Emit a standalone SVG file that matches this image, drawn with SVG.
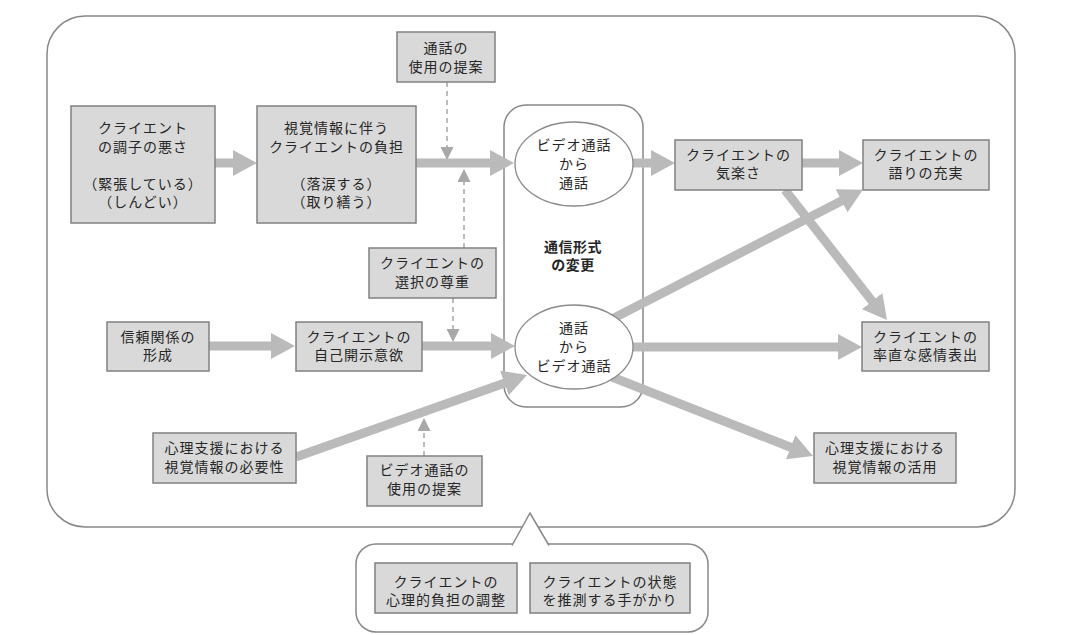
<svg xmlns="http://www.w3.org/2000/svg" width="1074" height="635" viewBox="0 0 1074 635">
<defs>
<style>
.box{fill:#d9d9d9;stroke:#808080;stroke-width:1.5}
.ell{fill:#ffffff;stroke:#8a8a8a;stroke-width:1.3}
.frame{fill:#ffffff;stroke:#888888;stroke-width:1.5}
.t{font-family:"Noto Sans CJK JP","Noto Sans CJK SC",sans-serif;font-size:14px;letter-spacing:1px;fill:#262626;text-anchor:middle}
.b{font-weight:bold;letter-spacing:0.5px}
.arr{stroke:#bababa;stroke-width:9;fill:none;marker-end:url(#ah)}
.dash{stroke:#999999;stroke-width:1.3;stroke-dasharray:5 4;fill:none;marker-end:url(#dh)}
</style>
<marker id="ah" markerUnits="userSpaceOnUse" viewBox="0 0 24 26" markerWidth="24" markerHeight="26" refX="2" refY="13" orient="auto">
<path d="M0,0 L24,13 L0,26 z" fill="#bababa"/>
</marker>
<marker id="dh" markerUnits="userSpaceOnUse" viewBox="0 0 13 13" markerWidth="13" markerHeight="13" refX="1" refY="6.5" orient="auto">
<path d="M0,0 L13,6.5 L0,13 z" fill="#a8a8a8"/>
</marker>
</defs>
<rect width="1074" height="635" fill="#ffffff"/>
<g id="frame">
<rect class="frame" x="47" y="16" width="968" height="511" rx="38"/>
</g>
<g id="bubble">
<rect class="frame" x="356" y="544" width="352" height="88" rx="20"/>
<path d="M512,545.5 L530,513 L549,545.5" fill="#ffffff" stroke="#888888" stroke-width="1.5" stroke-linejoin="miter"/>
</g>
<g id="group-format">
<rect class="frame" x="504" y="105" width="139" height="302" rx="22" stroke-width="1.2"/>
<text class="t b" x="573" y="252">通信形式</text>
<text class="t b" x="573" y="270">の変更</text>
</g>
<g id="connectors">
<line class="arr" x1="215" y1="163" x2="235" y2="163"/>
<line class="arr" x1="416" y1="163" x2="492" y2="163"/>
<line class="arr" x1="209" y1="346" x2="273" y2="346"/>
<line class="arr" x1="422" y1="346" x2="493" y2="346"/>
<line class="arr" x1="296" y1="457" x2="506.3" y2="382.4"/>
<line class="arr" x1="632" y1="163" x2="653" y2="163"/>
<line class="arr" x1="802" y1="163" x2="841" y2="163"/>
<line class="arr" x1="614" y1="318" x2="843.3" y2="199.9"/>
<line class="arr" x1="785" y1="190" x2="873.4" y2="302.7"/>
<line class="arr" x1="632" y1="347" x2="840" y2="347"/>
<line class="arr" x1="612" y1="377" x2="792.5" y2="448"/>
<line class="dash" x1="447" y1="82" x2="447" y2="148"/>
<line class="dash" x1="464" y1="248" x2="464" y2="181"/>
<line class="dash" x1="453" y1="298" x2="453" y2="330"/>
<line class="dash" x1="424" y1="456" x2="424" y2="430"/>
</g>
<g id="n-condition">
<rect class="box" x="71" y="106" width="144" height="117"/>
<text class="t" x="143" y="133">クライエント</text>
<text class="t" x="143" y="152">の調子の悪さ</text>
<text class="t" x="143" y="189">（緊張している）</text>
<text class="t" x="143" y="207">（しんどい）</text>
</g>
<g id="n-burden">
<rect class="box" x="257" y="106" width="159" height="117"/>
<text class="t" x="336.5" y="133">視覚情報に伴う</text>
<text class="t" x="336.5" y="152">クライエントの負担</text>
<text class="t" x="336.5" y="189">（落涙する）</text>
<text class="t" x="336.5" y="207">（取り繕う）</text>
</g>
<g id="n-propose-call">
<rect class="box" x="397" y="32" width="98" height="50"/>
<text class="t" x="446" y="53">通話の</text>
<text class="t" x="446" y="72">使用の提案</text>
</g>
<g id="n-choice">
<rect class="box" x="369" y="248" width="127" height="50"/>
<text class="t" x="432.5" y="268">クライエントの</text>
<text class="t" x="432.5" y="287">選択の尊重</text>
</g>
<g id="n-trust">
<rect class="box" x="107" y="322" width="102" height="49"/>
<text class="t" x="158" y="342">信頼関係の</text>
<text class="t" x="158" y="360">形成</text>
</g>
<g id="n-disclosure">
<rect class="box" x="296" y="322" width="126" height="49"/>
<text class="t" x="359" y="342">クライエントの</text>
<text class="t" x="359" y="360">自己開示意欲</text>
</g>
<g id="n-need">
<rect class="box" x="153" y="433" width="143" height="50"/>
<text class="t" x="224.5" y="453">心理支援における</text>
<text class="t" x="224.5" y="472">視覚情報の必要性</text>
</g>
<g id="n-propose-video">
<rect class="box" x="367" y="456" width="115" height="50"/>
<text class="t" x="424.5" y="475">ビデオ通話の</text>
<text class="t" x="424.5" y="494">使用の提案</text>
</g>
<g id="n-video-to-call">
<ellipse class="ell" cx="574" cy="164" rx="59" ry="42"/>
<text class="t" x="574" y="150">ビデオ通話</text>
<text class="t" x="574" y="169">から</text>
<text class="t" x="574" y="188">通話</text>
</g>
<g id="n-call-to-video">
<ellipse class="ell" cx="574" cy="347" rx="59" ry="42"/>
<text class="t" x="574" y="333">通話</text>
<text class="t" x="574" y="352">から</text>
<text class="t" x="574" y="371">ビデオ通話</text>
</g>
<g id="n-ease">
<rect class="box" x="675" y="140" width="127" height="50"/>
<text class="t" x="738.5" y="160">クライエントの</text>
<text class="t" x="738.5" y="178">気楽さ</text>
</g>
<g id="n-narrative">
<rect class="box" x="863" y="140" width="126" height="50"/>
<text class="t" x="926" y="160">クライエントの</text>
<text class="t" x="926" y="178">語りの充実</text>
</g>
<g id="n-emotion">
<rect class="box" x="862" y="322" width="127" height="49"/>
<text class="t" x="925.5" y="342">クライエントの</text>
<text class="t" x="925.5" y="360">率直な感情表出</text>
</g>
<g id="n-use">
<rect class="box" x="814" y="433" width="142" height="50"/>
<text class="t" x="885" y="453">心理支援における</text>
<text class="t" x="885" y="472">視覚情報の活用</text>
</g>
<g id="n-adjust">
<rect class="box" x="375" y="563" width="142" height="50"/>
<text class="t" x="446" y="587">クライエントの</text>
<text class="t" x="446" y="605">心理的負担の調整</text>
</g>
<g id="n-clue">
<rect class="box" x="530" y="563" width="160" height="50"/>
<text class="t" x="610" y="587">クライエントの状態</text>
<text class="t" x="610" y="605">を推測する手がかり</text>
</g>
</svg>
